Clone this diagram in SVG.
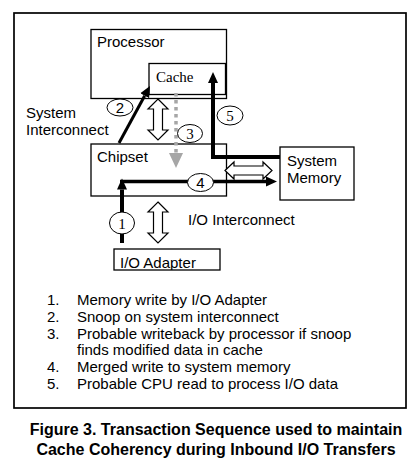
<svg xmlns="http://www.w3.org/2000/svg" width="417" height="462" viewBox="0 0 417 462">
<style>
.box{fill:#fff;stroke:#000;stroke-width:1.3}
.sans{font-family:"Liberation Sans",Arial,sans-serif;font-size:15px;fill:#000}
.serif{font-family:"Liberation Serif","Times New Roman",serif;font-size:15px;fill:#000}
.num{fill:#fff;stroke:#000;stroke-width:1}
.blk{fill:none;stroke:#000;stroke-linejoin:miter}
.hollow{fill:#fff;stroke:#000;stroke-width:1.2;stroke-linejoin:miter}
.cap{font-family:"Liberation Sans",Arial,sans-serif;font-size:16px;font-weight:bold;fill:#000;text-anchor:middle}
</style>
<defs>
<marker id="ah" markerUnits="userSpaceOnUse" markerWidth="12" markerHeight="12" refX="0" refY="5" orient="auto" viewBox="0 0 12 10">
<path d="M0,0 L11,5 L0,10 Z" fill="#000"/>
</marker>
<clipPath id="ioclip"><rect x="100" y="240" width="140" height="30"/></clipPath>
</defs>
<rect width="417" height="462" fill="#fff"/>
<rect id="frame" x="14" y="13" width="392" height="395" fill="none" stroke="#000" stroke-width="1.7"/>

<g id="processor">
<rect class="box" x="91" y="29.5" width="135.5" height="69"/>
<text class="sans" x="97" y="47">Processor</text>
</g>
<g id="cache">
<rect class="box" x="149" y="63.5" width="76.5" height="31"/>
<text class="serif" x="156" y="82">Cache</text>
</g>
<g id="chipset">
<rect class="box" x="91" y="144" width="135.5" height="52"/>
<text class="sans" x="97" y="161.5">Chipset</text>
</g>
<g id="system-memory">
<rect class="box" x="280" y="147" width="74" height="53"/>
<text class="sans" x="287" y="166">System</text>
<text class="sans" x="287" y="183">Memory</text>
</g>
<g id="io-adapter">
<text class="sans" x="120" y="268" clip-path="url(#ioclip)">I/O Adapter</text>
<rect x="114" y="249" width="106" height="21" fill="none" stroke="#000" stroke-width="1.3"/>
</g>
<g id="labels">
<text class="sans" x="26" y="118">System</text>
<text class="sans" x="26" y="135">Interconnect</text>
<text class="sans" x="188" y="225">I/O Interconnect</text>
</g>

<g id="connectors">
<path class="hollow" d="M158,99 L168,109 L162.5,109 L162.5,130 L168,130 L158,140 L148,130 L153.5,130 L153.5,109 L148,109 Z"/>
<path class="hollow" d="M158,202 L168,212 L162.5,212 L162.5,233 L168,233 L158,243 L148,233 L153.5,233 L153.5,212 L148,212 Z"/>
<path class="hollow" d="M225,170.5 L234,162 L234,166 L263,166 L263,162 L272,170.5 L263,179 L263,175 L234,175 L234,179 Z"/>
<line x1="176" y1="93" x2="176" y2="153" stroke="#a6a6a6" stroke-width="3.5" stroke-dasharray="3.5 3.5"/>
<path d="M169,153 L183,153 L176,168 Z" fill="#a6a6a6"/>
<path class="blk" d="M119,143 L144.7,95.7" stroke-width="3" marker-end="url(#ah)"/>
<path class="blk" d="M280,157 L213,157 L213,83" stroke-width="4" marker-end="url(#ah)"/>
<path class="blk" d="M122,243 L122,189.5" stroke-width="4" marker-end="url(#ah)"/>
<path class="blk" d="M120,181.5 L266,181.5" stroke-width="3.5" marker-end="url(#ah)"/>
</g>

<g id="step-2"><ellipse class="num" cx="120" cy="107.5" rx="13" ry="8.5"/><text class="sans" x="120" y="113" text-anchor="middle">2</text></g>
<g id="step-3"><ellipse class="num" cx="190" cy="133.5" rx="12.5" ry="9"/><text class="serif" x="190" y="139" text-anchor="middle">3</text></g>
<g id="step-5"><ellipse class="num" cx="230" cy="115.5" rx="13" ry="9.5"/><text class="serif" x="230" y="121" text-anchor="middle">5</text></g>
<g id="step-4"><ellipse class="num" cx="200.5" cy="182.5" rx="13" ry="9"/><text class="sans" x="200.5" y="188" text-anchor="middle">4</text></g>
<g id="step-1"><ellipse class="num" cx="122" cy="223" rx="12.5" ry="11"/><text class="serif" x="122" y="228.5" text-anchor="middle">1</text></g>

<g id="legend" class="sans">
<text x="47" y="305">1.</text><text x="77" y="305">Memory write by I/O Adapter</text>
<text x="47" y="321.8">2.</text><text x="77" y="321.8">Snoop on system interconnect</text>
<text x="47" y="338.6">3.</text><text x="77" y="338.6">Probable writeback by processor if snoop</text>
<text x="77" y="355.4">finds modified data in cache</text>
<text x="47" y="372.2">4.</text><text x="77" y="372.2">Merged write to system memory</text>
<text x="47" y="389">5.</text><text x="77" y="389">Probable CPU read to process I/O data</text>
</g>

<g id="caption">
<text class="cap" x="216" y="435">Figure 3. Transaction Sequence used to maintain</text>
<text class="cap" x="216" y="455">Cache Coherency during Inbound I/O Transfers</text>
</g>
</svg>
